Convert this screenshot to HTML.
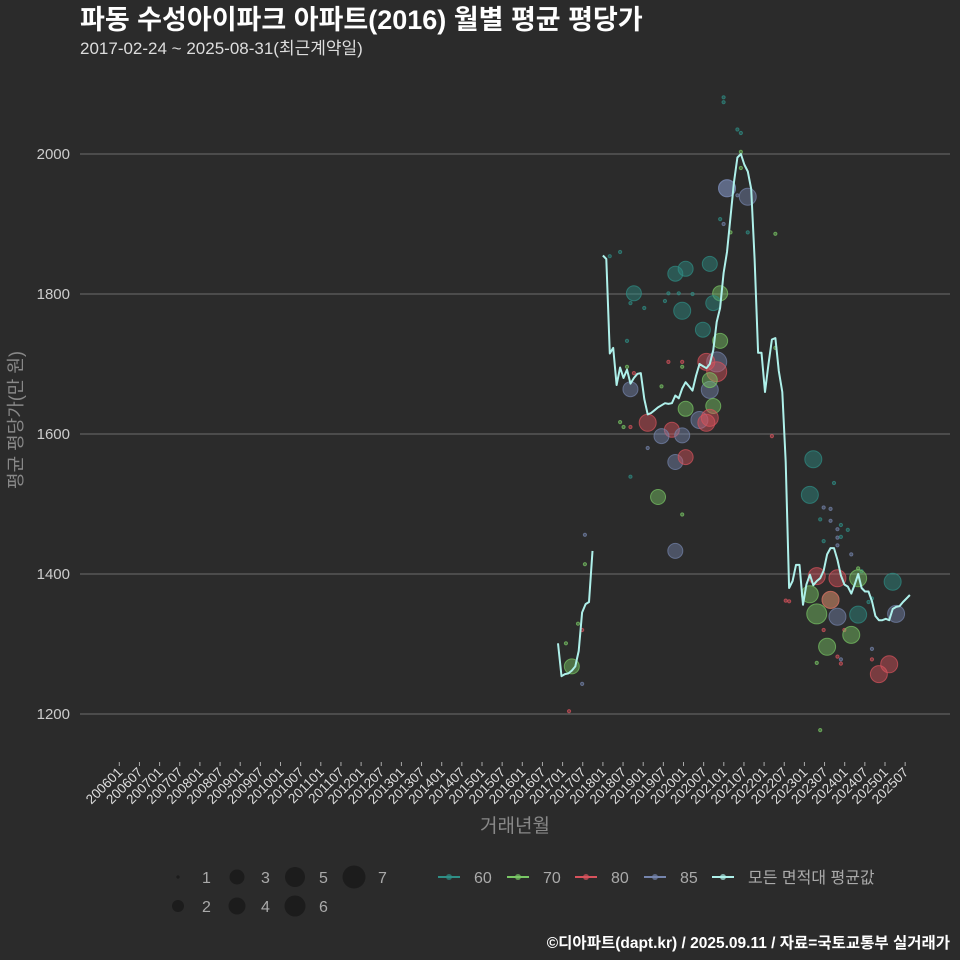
<!DOCTYPE html>
<html><head><meta charset="utf-8"><style>
body{margin:0;background:#2b2b2b;}
svg{display:block;font-family:"Liberation Sans","Noto Sans CJK KR",sans-serif;}
</style></head><body>
<svg id="chart" width="960" height="960" viewBox="0 0 960 960">
<rect width="960" height="960" fill="#2b2b2b"/>
<text x="80" y="29" font-size="27" font-weight="bold" fill="#ffffff">파동 수성아이파크 아파트(2016) 월별 평균 평당가</text>
<text x="80" y="54" font-size="17" fill="#dddddd">2017-02-24 ~ 2025-08-31(최근계약일)</text>
<g id="grid"></g>
<g id="yticks"></g>
<g id="xticks"></g>
<g id="points"></g>
<g id="line"></g>
<text x="22" y="420" font-size="18" fill="#888" text-anchor="middle" transform="rotate(-90 22 420)">평균 평당가(만 원)</text>
<text x="515" y="832" font-size="19" fill="#888" text-anchor="middle">거래년월</text>
<g id="legend"></g>
<text x="950" y="948" font-size="15.5" font-weight="bold" fill="#ffffff" text-anchor="end">©디아파트(dapt.kr) / 2025.09.11 / 자료=국토교통부 실거래가</text>
</svg>
<script>
// ---- data ----
const yTicks = [1200, 1400, 1600, 1800, 2000];
const xTickLabels = [];
for (let y = 2006; y <= 2025; y++) { xTickLabels.push(y + '01'); xTickLabels.push(y + '07'); }
const lineStart = 133; // months since 2006-01 (2017-02)
const lineValues = [1301,1254,1257,1258,1262,1268,1290,1345,1357,1360,1433,null,null,
1855,1850,1715,1723,1670,1695,1680,1692,1672,1680,1686,1687,1650,1628,1630,1634,1638,1641,1644,1643,1644,1655,1651,1665,1674,1668,1662,1683,1700,1697,1694,1700,1720,1760,1780,1830,1860,1910,1960,1995,2000,1985,1975,1950,1850,1716,1716,1660,1700,1735,1737,1690,1660,1560,1380,1390,1413,1413,1356,1385,1399,1384,1390,1394,1405,1428,1437,1437,1420,1398,1385,1382,1372,1385,1400,1380,1375,1375,1361,1340,1334,1334,1336,1334,1350,1353,1354,1360,1365,1370];
const ptMonth = [140.8,140.8,135.3,137,140,140,136.2,138.8,
148,151,155,170,167,177,165,168,172,180,178,169,154,164,175,158,180,153,179,176,179,165,169,169,153,181,182,177,177,154,155,163,178,170,174,177,176,159,166,163,169,151,154,152,167,170,159,154,162,169,167,
181,185,186,186,186,182,188,185,180,181,183,188,196,196,195,
207,206,213,210,212,209,212,215,214,217,214,215,210,214,221,218,200,214,220,208,206,212,212,208,214,220,230,231,210,216,220,218,211,224,224,214,215,229,226,208,215,209,199,223,224];
const ptValue = [1456,1414,1301,1268,1320,1243,1204,1329,
1854,1860,1801,1836,1829,1843,1801,1801,1800,1801,1787,1776,1787,1790,1749,1780,1733,1733,1703,1703,1689,1703,1703,1696,1696,2081,1951,1663,1677,1664,1687,1668,1640,1636,1620,1623,1616,1616,1606,1597,1598,1617,1610,1610,1560,1567,1580,1539,1510,1485,1433,
2074,2035,2030,2003,1980,1951,1939,1941,1907,1900,1888,1888,1886,1723,1597,
1564,1513,1530,1495,1493,1478,1476,1470,1464,1463,1452,1453,1447,1441,1404,1428,1361,1394,1394,1397,1371,1363,1363,1343,1339,1342,1389,1343,1320,1320,1408,1313,1296,1293,1278,1282,1278,1271,1257,1273,1272,1177,1362,1360,1365];
const ptSize = [1,1,1,3,1,1,1,1,
1,1,3,3,3,3,1,1,1,3,3,4,1,1,3,1,3,1,5,4,5,1,1,1,1,1,4,4,3,3,1,1,3,3,4,4,4,4,3,3,3,1,1,1,3,3,1,1,3,1,3,
1,1,1,1,1,4,4,1,1,1,1,1,1,1,1,
4,4,1,1,1,1,1,1,1,1,1,1,1,1,1,1,1,4,4,4,4,4,4,5,4,4,4,4,1,1,1,4,4,1,1,1,1,4,4,1,1,1,1,1,1];
const ptType = [85,70,70,70,80,85,80,70,
60,60,60,60,60,60,60,60,60,70,60,60,60,60,60,60,70,60,85,80,80,80,80,70,70,60,85,85,70,85,80,70,70,70,85,80,80,80,80,85,85,70,80,70,85,80,85,60,70,70,85,
60,60,60,70,70,85,85,85,60,85,70,60,70,70,80,
60,60,60,85,85,60,85,60,85,60,85,60,60,85,60,85,80,80,70,80,70,70,80,70,85,60,60,85,80,80,70,70,70,85,80,80,85,80,80,70,80,70,80,60,60];

// ---- scales ----
const yScale = v => 154 + (2000 - v) * 0.7;
const xData = m => 558 + (m - 133) * 3.45;
const xTick = i => 119.3 + i * 20.15;
const colors = {60:'#2f8f86',70:'#79c765',80:'#d8525c',85:'#7585ad'};
const radius = s => [0,1.6,6,7.5,8.5,10,10.5,11.5][s];
const NS = 'http://www.w3.org/2000/svg';
function mk(tag, attrs, parent){const e=document.createElementNS(NS,tag);for(const k in attrs)e.setAttribute(k,attrs[k]);parent.appendChild(e);return e;}

const grid = document.getElementById('grid'), yt = document.getElementById('yticks');
yTicks.forEach(v=>{
  const l = mk('line',{x1:80,x2:950,y1:yScale(v),y2:yScale(v),stroke:'#6e6e6e','stroke-width':1},grid);
  
  
  const t = mk('text',{x:70,y:yScale(v)+5,'font-size':15,fill:'#cccccc','text-anchor':'end'},yt);
  t.textContent = v;
  
  
});
const xt = document.getElementById('xticks');
xTickLabels.forEach((lab,i)=>{
  const x = xTick(i);
  const tk = mk('line',{x1:x,x2:x,y1:762,y2:766,stroke:'#aaaaaa','stroke-width':1},xt);
  
  
  const t = mk('text',{x:x+4,y:773,'font-size':13.5,fill:'#dddddd','text-anchor':'end',transform:`rotate(-45 ${x+4} 773)`},xt);
  t.textContent = lab;
  
  
});
const pg = document.getElementById('points');
ptMonth.forEach((m,i)=>{
  const c = colors[ptType[i]];
  const p = mk('circle',{cx:xData(m),cy:yScale(ptValue[i]),r:radius(ptSize[i]),fill:c,'fill-opacity':0.45,stroke:c,'stroke-opacity':0.7,'stroke-width':1},pg);
  
  
});
const lg = document.getElementById('line');
let d='', pen=false;
lineValues.forEach((v,i)=>{
  if(v===null){pen=false;return;}
  d += (pen?'L':'M') + xData(lineStart+i).toFixed(1)+','+yScale(v).toFixed(1)+' ';
  pen=true;
});
const path = mk('path',{d:d,fill:'none',stroke:'#aef0ea','stroke-width':2,'stroke-linejoin':'round'},lg);



// ---- legend ----
const leg = document.getElementById('legend');
const sizeLeg = [[1,178,877],[3,237,877],[5,295,877],[7,354,877],[2,178,906],[4,237,906],[6,295,906]];
sizeLeg.forEach(([s,x,y])=>{
  const c = mk('circle',{cx:x,cy:y,r:radius(s),fill:'#1c1c1c'},leg);
  
  
  const t = mk('text',{x:x+24,y:y+6,'font-size':16,fill:'#aaaaaa'},leg);
  t.textContent = s;
  
  
});
const lineLeg = [['60','#2f8f86',449],['70','#79c765',518],['80','#d8525c',586],['85','#7585ad',655],['모든 면적대 평균값','#aef0ea',723]];
lineLeg.forEach(([lab,c,x])=>{
  const l = mk('line',{x1:x-11,x2:x+11,y1:877,y2:877,stroke:c,'stroke-width':2},leg);
  
  
  const p = mk('circle',{cx:x,cy:877,r:3,fill:c,'fill-opacity':0.7},leg);
  
  
  const t = mk('text',{x:x+25,y:883,'font-size':16,fill:'#aaaaaa'},leg);
  t.textContent = lab;
  
  
});
</script>
</body></html>
